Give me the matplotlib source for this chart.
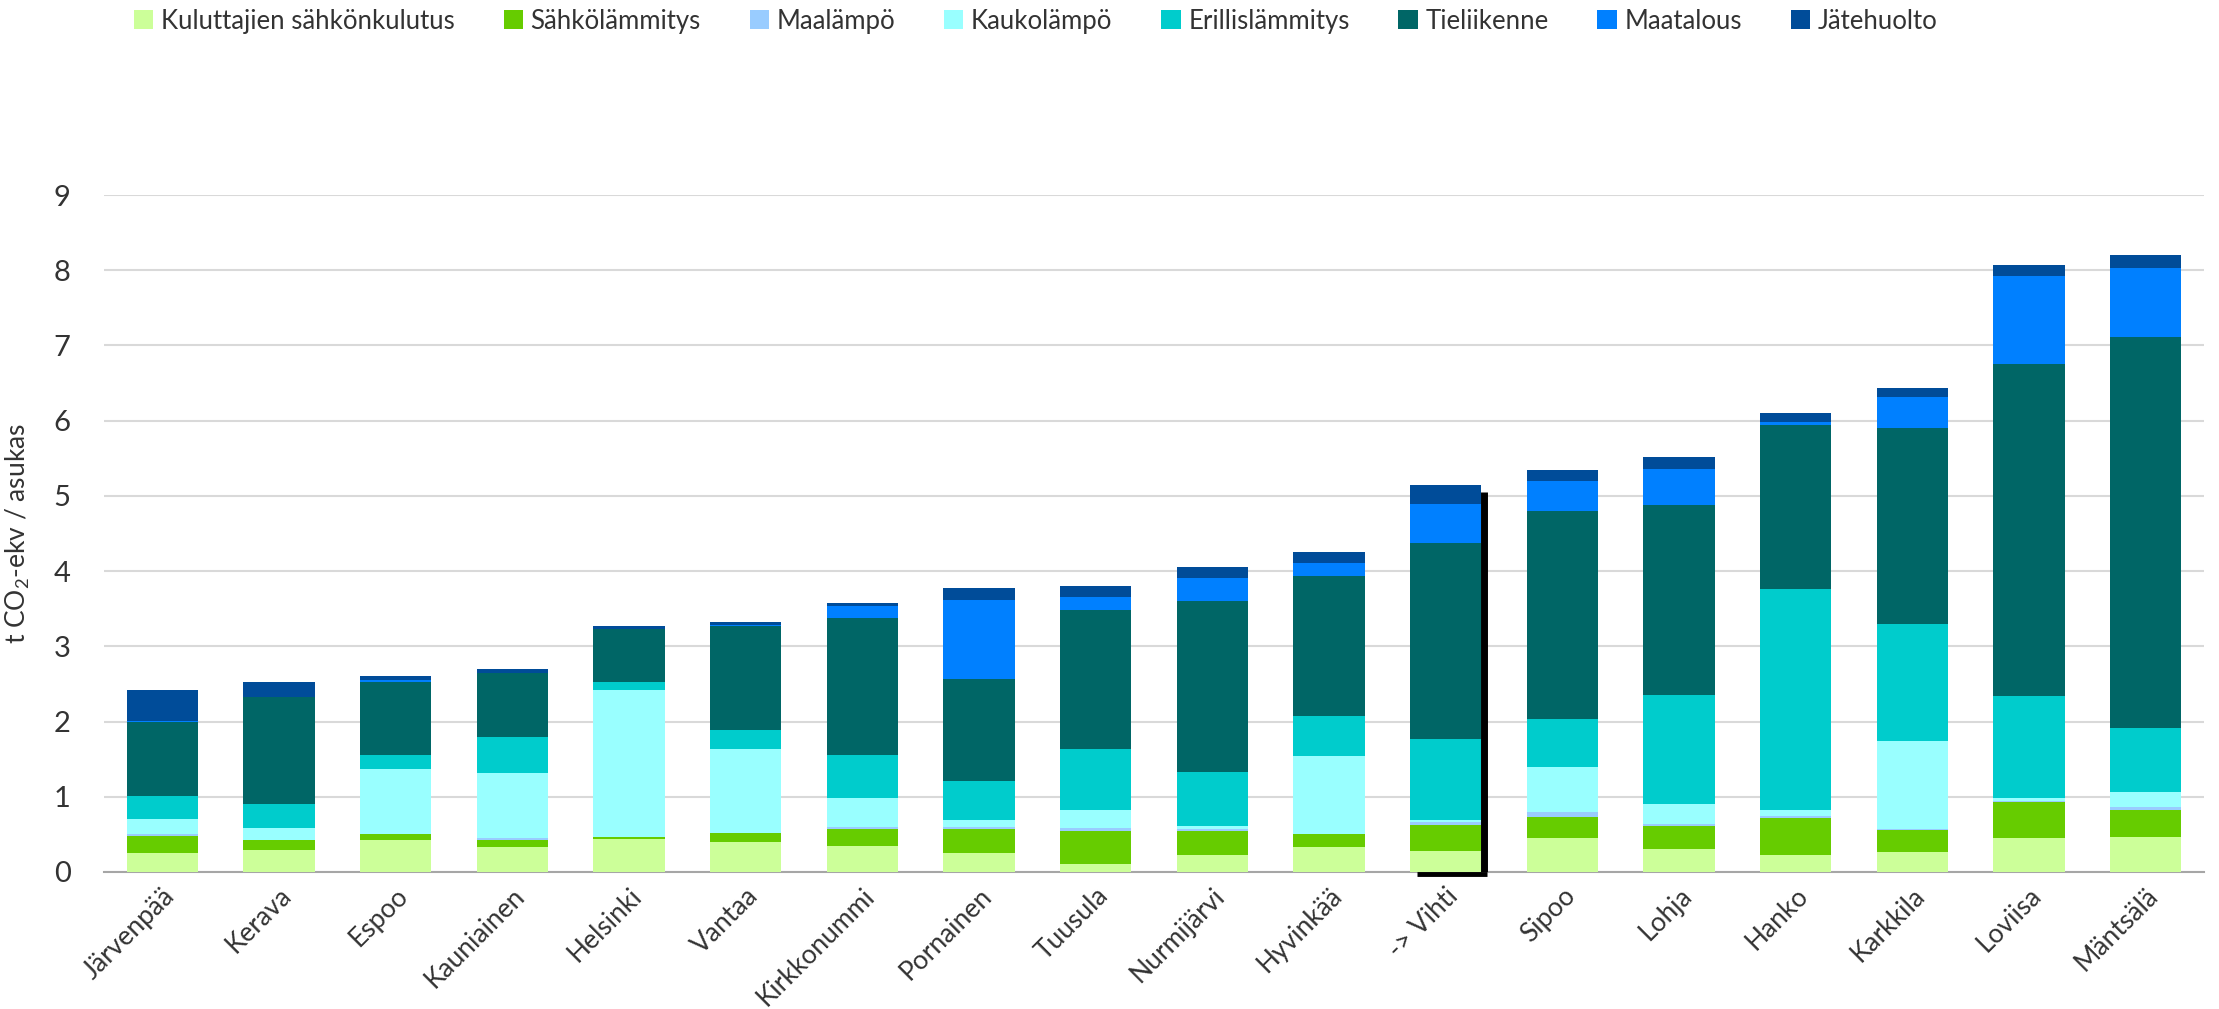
import matplotlib
matplotlib.use("Agg")
import matplotlib.pyplot as plt
import numpy as np

plt.rcParams['font.family'] = ['Lato', 'DejaVu Sans']

municipalities = ["Järvenpää", "Kerava", "Espoo", "Kauniainen", "Helsinki", "Vantaa",
                  "Kirkkonummi", "Pornainen", "Tuusula", "Nurmijärvi", "Hyvinkää", "-> Vihti",
                  "Sipoo", "Lohja", "Hanko", "Karkkila", "Loviisa", "Mäntsälä"]

series_names = ["Kuluttajien sähkönkulutus", "Sähkölämmitys", "Maalämpö", "Kaukolämpö",
                "Erillislämmitys", "Tieliikenne", "Maatalous", "Jätehuolto"]

kuluttajien = [0.25, 0.29, 0.42, 0.33, 0.44, 0.40, 0.34, 0.25, 0.10, 0.22, 0.33, 0.28, 0.45, 0.30, 0.23, 0.27, 0.45, 0.47]
sahkolammitys = [0.23, 0.13, 0.09, 0.09, 0.03, 0.12, 0.23, 0.32, 0.44, 0.32, 0.17, 0.35, 0.28, 0.31, 0.49, 0.29, 0.48, 0.36]
maalampo = [0.02, 0.00, 0.00, 0.03, 0.00, 0.00, 0.03, 0.03, 0.04, 0.03, 0.00, 0.03, 0.07, 0.03, 0.03, 0.01, 0.01, 0.04]
kaukolampo = [0.21, 0.16, 0.86, 0.87, 1.95, 1.12, 0.39, 0.09, 0.25, 0.04, 1.04, 0.03, 0.59, 0.27, 0.07, 1.17, 0.04, 0.19]
erillislammitys = [0.30, 0.32, 0.19, 0.47, 0.11, 0.25, 0.56, 0.52, 0.80, 0.72, 0.54, 1.08, 0.65, 1.44, 2.94, 1.56, 1.36, 0.85]
tieliikenne = [0.98, 1.43, 0.97, 0.85, 0.70, 1.38, 1.83, 1.35, 1.85, 2.27, 1.86, 2.61, 2.76, 2.53, 2.18, 2.60, 4.41, 5.20]
maatalous = [0.02, 0.00, 0.02, 0.00, 0.00, 0.01, 0.15, 1.06, 0.17, 0.31, 0.17, 0.51, 0.40, 0.48, 0.04, 0.41, 1.17, 0.92]
jatehuolto = [0.41, 0.19, 0.05, 0.06, 0.04, 0.04, 0.05, 0.16, 0.15, 0.15, 0.15, 0.26, 0.15, 0.16, 0.12, 0.12, 0.15, 0.17]

highlight_index = 11
highlight_line_top = 5.05

colors = ["#CCFF99", "#66CC00", "#99CCFF", "#99FFFF", "#00CCCC", "#006666", "#0080FF", "#004C99"]

data = [kuluttajien, sahkolammitys, maalampo, kaukolampo, erillislammitys, tieliikenne, maatalous, jatehuolto]

text_color = "#333333"

fig = plt.figure(figsize=(22.19, 10.09), dpi=100)
ax = fig.add_axes([0.0469, 0.1358, 0.9463, 0.6709])

x = np.arange(len(municipalities))
width = 0.61
bottom = np.zeros(len(municipalities))
for name, vals, c in zip(series_names, data, colors):
    v = np.array(vals)
    ax.bar(x, v, width, bottom=bottom, color=c, label=name, zorder=3, linewidth=0)
    bottom += v

# highlight frame (right and bottom edge) for Vihti
xc = x[highlight_index]
ax.plot([xc + width / 2 + 0.025, xc + width / 2 + 0.025], [0, highlight_line_top], color="black", lw=5, zorder=4, solid_capstyle="butt")
ax.plot([xc - width / 2 + 0.06, xc + width / 2 + 0.05], [-0.03, -0.03], color="black", lw=3.5, zorder=4, solid_capstyle="butt", clip_on=False)

ax.set_xlim(-0.5, len(municipalities) - 0.5)
ax.set_ylim(0, 9)
ax.set_yticks(range(0, 10))
ax.yaxis.grid(True, color="#D9D9D9", lw=1.5, zorder=0)
ax.set_axisbelow(True)
for s in ["top", "right", "left"]:
    ax.spines[s].set_visible(False)
ax.spines["bottom"].set_color("#A6A6A6")
ax.spines["bottom"].set_linewidth(1.5)
ax.tick_params(axis="y", length=0, labelsize=21, labelcolor=text_color, pad=24)
ax.tick_params(axis="x", length=0, labelsize=19, labelcolor=text_color, pad=8)
ax.set_xticks(x)
ax.set_xticklabels(municipalities, rotation=45, ha="right", rotation_mode="anchor")

ax.set_ylabel(r"t CO$_\mathregular{2}$-ekv / asukas", fontsize=19, color=text_color, labelpad=16)

leg = ax.legend(loc="center left", bbox_to_anchor=(0.05, 0.979), bbox_transform=fig.transFigure,
                ncol=8, frameon=False, fontsize=18.5, handlelength=0.75, handleheight=0.75,
                handletextpad=0.3, columnspacing=1.9)
for t in leg.get_texts():
    t.set_color(text_color)

fig.savefig("out.png", dpi=100)
